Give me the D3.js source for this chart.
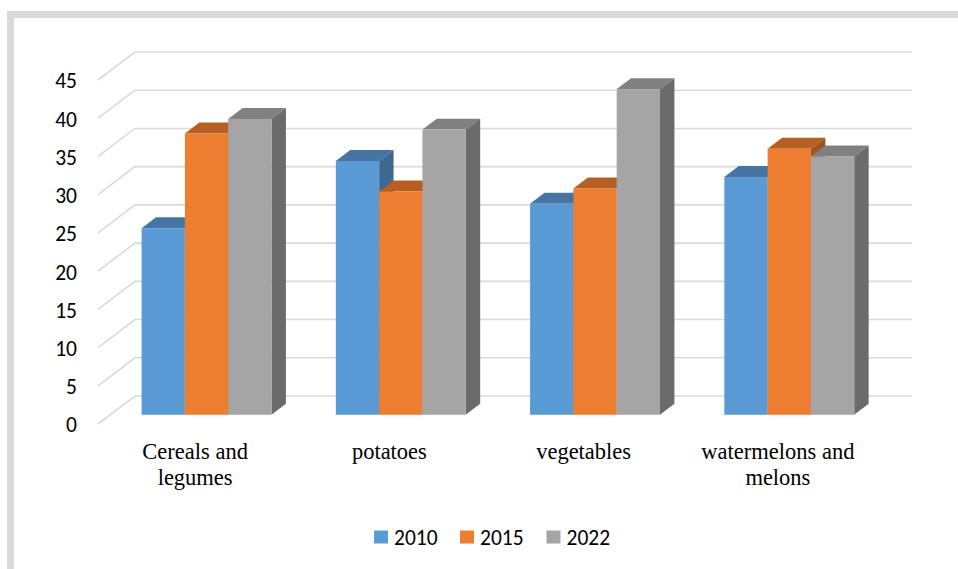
<!DOCTYPE html>
<html>
<head>
<meta charset="utf-8">
<script src="https://cdn.jsdelivr.net/npm/d3@7"></script>
<style>
  html, body { margin: 0; padding: 0; background: #ffffff; }
  svg { display: block; }
</style>
</head>
<body>
<svg id="chart" width="958" height="569"></svg>
<script>
// Data
const categories = ["Cereals and legumes", "potatoes", "vegetables", "watermelons and melons"];
const categoryLines = [["Cereals and", "legumes"], ["potatoes"], ["vegetables"], ["watermelons and", "melons"]];
const years = ["2010", "2015", "2022"];
const values2010 = [24.4, 33.2, 27.6, 31.1];
const values2015 = [36.8, 29.2, 29.6, 34.8];
const values2022 = [38.7, 37.3, 42.6, 33.8];
const yTicks = [0, 5, 10, 15, 20, 25, 30, 35, 40, 45];

const seriesValues = [values2010, values2015, values2022];
const frontColors = ["#5b9bd5", "#ed7d31", "#a5a5a5"];
const topColors = ["#4675a3", "#b55f22", "#808080"];
const sideColors = ["#3d6890", "#a05420", "#6b6b6b"];

const svg = d3.select("#chart");

// Outer frame
svg.append("rect")
  .attr("x", 10.5).attr("y", 14.5)
  .attr("width", 1000).attr("height", 600)
  .attr("fill", "#ffffff")
  .attr("stroke", "#d9d9d9")
  .attr("stroke-width", 7);

// 3D box geometry (oblique projection)
const frontLeft = 98, frontRight = 875;
const floorFront = 424, topFront = 80;
const depth = { x: 37, y: -28 };           // full wall depth offset
const barFrontF = 0.33, barBackF = 0.72;    // bar row position inside the depth

const y = d3.scaleLinear().domain([0, 45]).range([floorFront, topFront]);
const x0 = d3.scaleBand().domain(categories).range([frontLeft, frontRight]).padding(0);
const x1 = d3.scaleBand().domain(years).range([0, x0.bandwidth()]).paddingInner(0).paddingOuter(0.743);

const shift = f => ({ x: depth.x * f, y: depth.y * f });

// Gridlines: side-wall diagonal + back-wall horizontal
const grid = svg.append("g").attr("stroke", "#d9d9d9").attr("stroke-width", 1.6).attr("fill", "none");
yTicks.forEach(t => {
  const yf = y(t);
  grid.append("path")
    .attr("d", `M${frontLeft},${yf}L${frontLeft + depth.x},${yf + depth.y}L${frontRight + depth.x},${yf + depth.y}`);
});

// Y axis labels
const yAxis = d3.axisLeft(y).tickValues(yTicks).tickSize(0).tickPadding(21).tickFormat(d3.format("d"));
const yAxisG = svg.append("g").attr("transform", `translate(${frontLeft},1)`).call(yAxis);
yAxisG.select(".domain").remove();
yAxisG.selectAll("text")
  .attr("font-family", "Carlito, Lato, sans-serif")
  .attr("font-size", 21.5)
  .attr("fill", "#000000");

// Bars (drawn left to right so later front faces cover earlier side faces)
const sf = shift(barFrontF), sb = shift(barBackF);
const bars = [];
categories.forEach((c, ci) => {
  years.forEach((yr, si) => {
    bars.push({ c, yr, si, v: seriesValues[si][ci] });
  });
});

const barG = svg.append("g");
bars.forEach(b => {
  const xl = x0(b.c) + x1(b.yr) + sf.x - 0.8;
  const xr = xl + x1.bandwidth();
  const yb = y(0) + sf.y;
  const yt = y(b.v) + sf.y;
  const dx = sb.x - sf.x, dy = sb.y - sf.y;
  const g = barG.append("g");
  // top face
  g.append("path")
    .attr("d", `M${xl},${yt}L${xl + dx},${yt + dy}L${xr + dx},${yt + dy}L${xr},${yt}Z`)
    .attr("fill", topColors[b.si]);
  // right side face
  g.append("path")
    .attr("d", `M${xr},${yt}L${xr + dx},${yt + dy}L${xr + dx},${yb + dy}L${xr},${yb}Z`)
    .attr("fill", sideColors[b.si]);
  // front face
  g.append("rect")
    .attr("x", xl).attr("y", yt)
    .attr("width", xr - xl).attr("height", yb - yt)
    .attr("fill", frontColors[b.si]);
});

// Category labels
const catG = svg.append("g")
  .attr("font-family", "'Liberation Serif', 'Times New Roman', serif")
  .attr("font-size", 22.5)
  .attr("fill", "#000000")
  .attr("text-anchor", "middle");
categories.forEach((c, ci) => {
  const cx = x0(c) + x0.bandwidth() / 2;
  const t = catG.append("text").attr("x", cx).attr("y", 459);
  categoryLines[ci].forEach((line, li) => {
    t.append("tspan").attr("x", cx).attr("dy", li === 0 ? 0 : 26).text(line);
  });
});

// Legend
const legendX = [374, 460, 546.5];
const legend = svg.append("g")
  .attr("font-family", "Carlito, Lato, sans-serif")
  .attr("font-size", 21.5)
  .attr("fill", "#000000");
years.forEach((yr, i) => {
  legend.append("rect")
    .attr("x", legendX[i]).attr("y", 530.5)
    .attr("width", 14).attr("height", 13)
    .attr("fill", frontColors[i]);
  legend.append("text")
    .attr("x", legendX[i] + 20).attr("y", 544.5)
    .text(yr);
});
</script>
</body>
</html>
